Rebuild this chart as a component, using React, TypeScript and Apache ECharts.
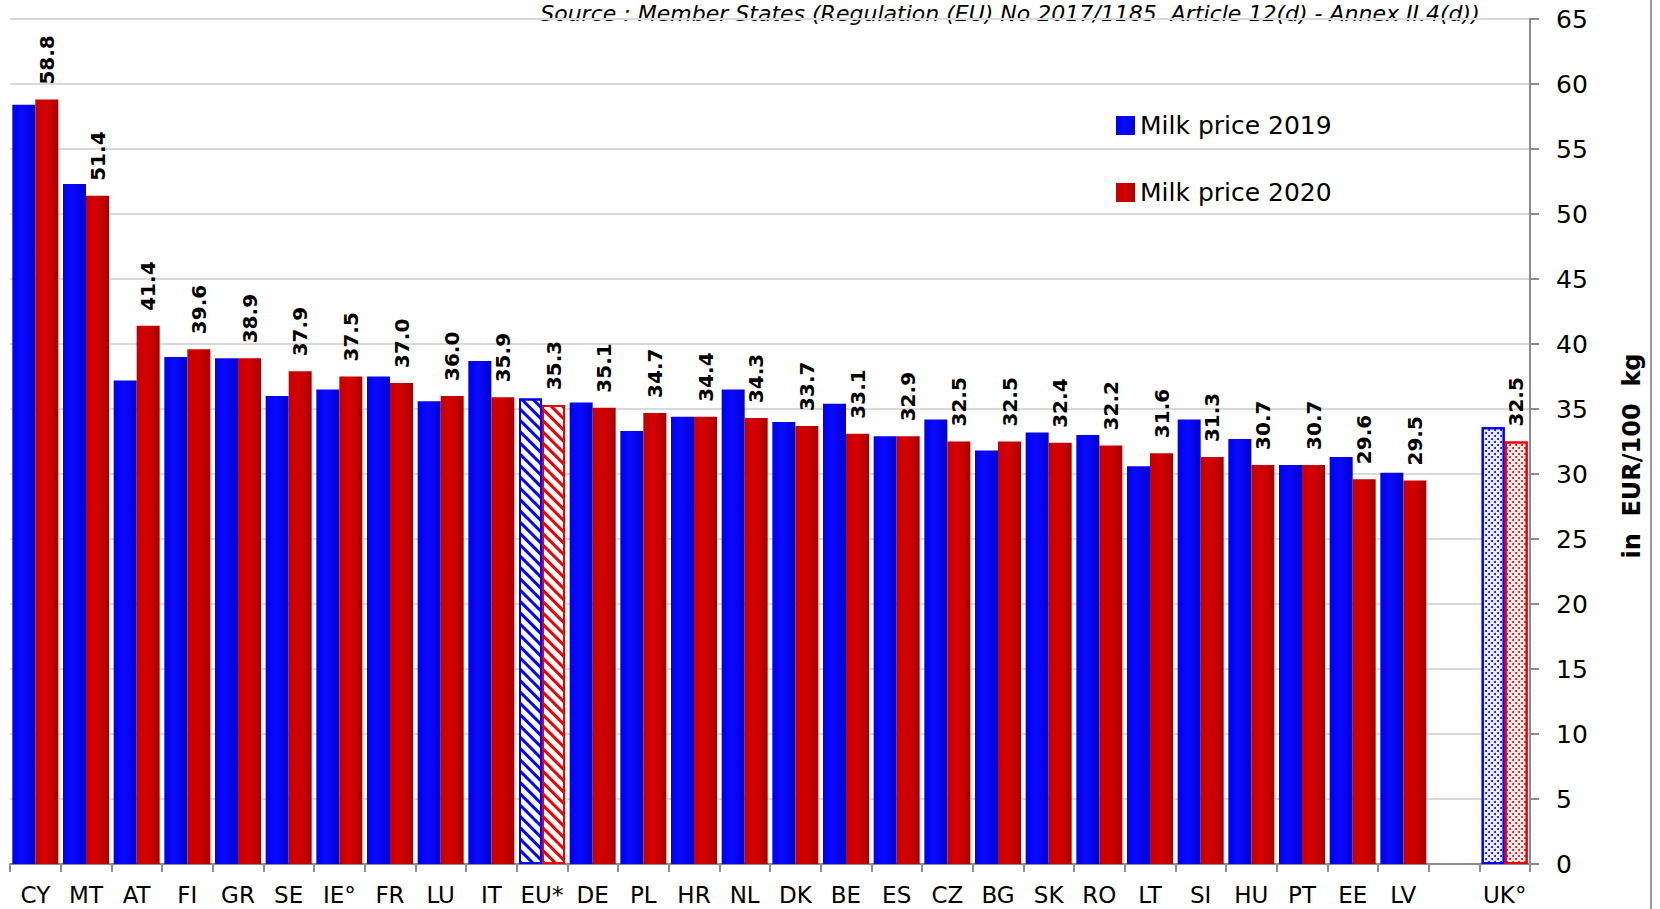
import React, { useEffect, useRef } from "react";
import * as echarts from "echarts";

const categories = ["CY", "MT", "AT", "FI", "GR", "SE", "IE°", "FR", "LU", "IT", "EU*", "DE", "PL", "HR", "NL", "DK", "BE", "ES", "CZ", "BG", "SK", "RO", "LT", "SI", "HU", "PT", "EE", "LV", "", "UK°"];
const price2019 = [58.4, 52.3, 37.2, 39.0, 38.9, 36.0, 36.5, 37.5, 35.6, 38.7, 35.8, 35.5, 33.3, 34.4, 36.5, 34.0, 35.4, 32.9, 34.2, 31.8, 33.2, 33.0, 30.6, 34.2, 32.7, 30.7, 31.3, 30.1, null, 33.6];
const price2020 = [58.8, 51.4, 41.4, 39.6, 38.9, 37.9, 37.5, 37.0, 36.0, 35.9, 35.3, 35.1, 34.7, 34.4, 34.3, 33.7, 33.1, 32.9, 32.5, 32.5, 32.4, 32.2, 31.6, 31.3, 30.7, 30.7, 29.6, 29.5, null, 32.5];
const seriesNames = ["Milk price 2019", "Milk price 2020"];
const hatchedIndex = 10;
const dottedIndex = 29;
const sourceText = "Source : Member States (Regulation (EU) No 2017/1185  Article 12(d) - Annex II.4(d))";
const axisTitle = "in  EUR/100  kg";

const FONT = '"DejaVu Sans", Verdana, sans-serif';

export default function App() {
  const ref = useRef<HTMLDivElement>(null);

  useEffect(() => {
    if (!ref.current) return;
    const chart = echarts.init(ref.current, null, { renderer: "svg" });

    // fit source text to its width
    let srcSize = 21;
    try {
      const ctx = document.createElement("canvas").getContext("2d");
      if (ctx) {
        ctx.font = `italic 20px "DejaVu Sans"`;
        const w = ctx.measureText(sourceText).width;
        if (w > 0) srcSize = (20 * 940) / w;
      }
    } catch (e) {}

    const blueGrad = new echarts.graphic.LinearGradient(0, 0, 1, 0, [
      { offset: 0, color: "#0000ee" },
      { offset: 0.45, color: "#0a0aff" },
      { offset: 1, color: "#0000cc" },
    ]);
    const redGrad = new echarts.graphic.LinearGradient(0, 0, 1, 0, [
      { offset: 0, color: "#c40000" },
      { offset: 0.45, color: "#d60000" },
      { offset: 1, color: "#a80000" },
    ]);

    const hatch = (c: string) => ({
      color: "#ffffff",
      borderColor: c,
      borderWidth: 2,
      decal: {
        symbol: "rect",
        symbolSize: 1,
        dashArrayX: [1, 0],
        dashArrayY: [3, 5],
        rotation: Math.PI / 4,
        color: c,
      },
    });
    const dots = (c: string, bg: string) => ({
      color: bg,
      borderColor: c,
      borderWidth: 2,
      decal: {
        symbol: "circle",
        symbolSize: 1,
        dashArrayX: [[2, 4], [0, 3, 2, 1]],
        dashArrayY: [2, 1],
        color: c,
      },
    });

    const build = (vals: (number | null)[], c: string, bg: string) =>
      vals.map((v, i) => {
        if (i === hatchedIndex) return { value: v, itemStyle: hatch(c) };
        if (i === dottedIndex) return { value: v, itemStyle: dots(c, bg) };
        return v == null ? "-" : v;
      });

    const option: any = {
      animation: false,
      backgroundColor: "#ffffff",
      textStyle: { fontFamily: FONT },
      grid: { left: 10, right: 130, top: 19, bottom: 45, containLabel: false },
      legend: {
        orient: "vertical",
        left: 1111,
        top: 108,
        itemWidth: 19,
        itemHeight: 19,
        itemGap: 42,
        icon: "rect",
        data: seriesNames,
        textStyle: { fontSize: 25, color: "#000", fontFamily: FONT },
      },
      xAxis: {
        type: "category",
        data: categories,
        boundaryGap: true,
        axisLine: { show: true, lineStyle: { color: "#8c8c8c", width: 2 } },
        axisTick: { show: true, interval: 0, length: 8, lineStyle: { color: "#8c8c8c", width: 2 } },
        axisLabel: { interval: 0, margin: 19, fontSize: 23, lineHeight: 23, color: "#000", fontFamily: FONT },
        splitLine: { show: false },
      },
      yAxis: {
        type: "value",
        position: "right",
        min: 0,
        max: 65,
        interval: 5,
        axisLine: { show: true, lineStyle: { color: "#8c8c8c", width: 2 } },
        axisTick: { show: true, length: 9, lineStyle: { color: "#8c8c8c", width: 2 } },
        axisLabel: { margin: 26, fontSize: 25, color: "#000", fontFamily: FONT },
        splitLine: { show: true, lineStyle: { color: "#d9d9d9", width: 2 } },
      },
      series: [
        {
          name: seriesNames[0],
          type: "bar",
          barWidth: 23,
          barGap: "0%",
          itemStyle: { color: blueGrad },
          data: build(price2019, "#0000ff", "#eef0ff"),
        },
        {
          name: seriesNames[1],
          type: "bar",
          barWidth: 23,
          barGap: "0%",
          itemStyle: { color: redGrad },
          label: {
            show: true,
            position: "top",
            rotate: 90,
            align: "left",
            verticalAlign: "middle",
            distance: 15,
            fontSize: 20,
            fontWeight: "bold",
            color: "#000",
            fontFamily: FONT,
            formatter: (p: any) => (p.value == null || p.value === "-" ? "" : Number(p.value).toFixed(1)),
          },
          data: build(price2020, "#ee0000", "#fff0f0"),
        },
      ],
      graphic: [
        {
          type: "text",
          x: 1010,
          y: 13,
          style: {
            text: sourceText,
            fontSize: srcSize,
            fontStyle: "italic",
            fontFamily: FONT,
            fill: "#000",
            align: "center",
            verticalAlign: "middle",
          },
        },
        {
          type: "text",
          x: 1632,
          y: 456,
          rotation: Math.PI / 2,
          style: {
            text: axisTitle,
            fontSize: 24,
            fontWeight: "bold",
            fontFamily: FONT,
            fill: "#000",
            align: "center",
            verticalAlign: "middle",
          },
        },
        {
          type: "line",
          shape: { x1: 1651, y1: 0, x2: 1651, y2: 909 },
          style: { stroke: "#9a9a9a", lineWidth: 2 },
        },
      ],
    };

    chart.setOption(option);
    return () => chart.dispose();
  }, []);

  return (
    <div
      ref={ref}
      style={{ position: "fixed", left: 0, top: 0, width: 1660, height: 909, background: "#fff" }}
    />
  );
}
